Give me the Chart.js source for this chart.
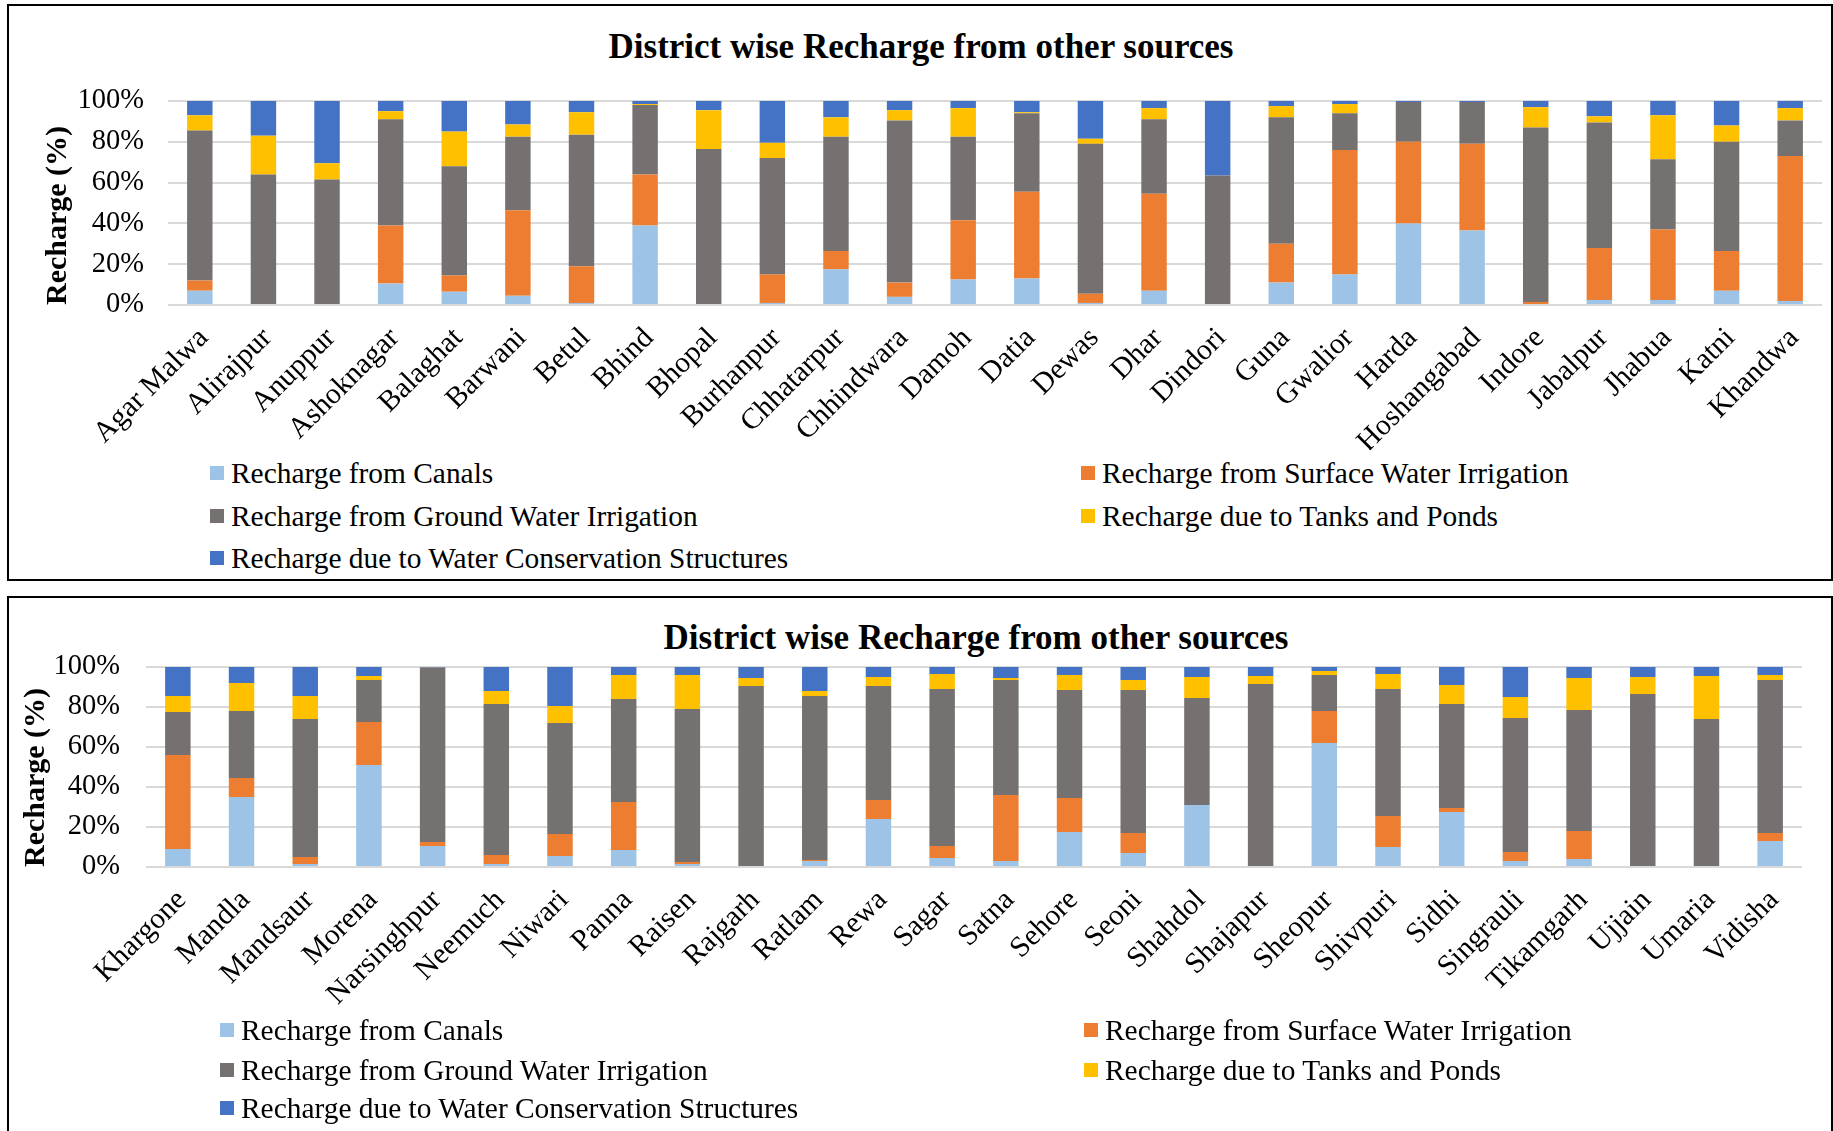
<!DOCTYPE html>
<html><head><meta charset="utf-8">
<script src="https://cdn.jsdelivr.net/npm/chart.js@4.4.1/dist/chart.umd.min.js"></script>
<style>
html,body{margin:0;padding:0;background:#fff;width:1833px;height:1131px;overflow:hidden;font-family:"Liberation Serif","Times New Roman",serif;color:#000;}
.frame{position:absolute;border:2px solid #000;box-sizing:border-box;}
.title{position:absolute;font-weight:bold;font-size:35px;white-space:nowrap;transform:translate(-50%,-50%);line-height:40px;}
canvas{position:absolute;left:0;}
.leg{position:absolute;font-size:29.4px;white-space:nowrap;display:flex;align-items:center;height:34px;line-height:34px;}
.leg i{display:inline-block;width:14px;height:14px;margin-right:7px;}
</style></head><body>
<div class="frame" style="left:7px;top:4px;width:1826px;height:577px;"></div>
<div class="frame" style="left:7px;top:596px;width:1826px;height:560px;"></div>
<div class="title" style="left:921px;top:47px;">District wise Recharge from other sources</div>
<div class="title" style="left:976px;top:638px;">District wise Recharge from other sources</div>
<canvas id="c1" width="1833" height="450" style="top:0;width:1833px;height:450px;"></canvas>
<canvas id="c2" width="1833" height="420" style="top:597px;width:1833px;height:420px;"></canvas>
<div id="legends"></div>
<script>
const seriesNames = [
  "Recharge from Canals",
  "Recharge from Surface Water Irrigation",
  "Recharge from Ground Water Irrigation",
  "Recharge due to Tanks and Ponds",
  "Recharge due to Water Conservation Structures"
];
const yTickValues = [0, 20, 40, 60, 80, 100];
const yAxisTitle = "Recharge (%)";

// Panel 1
const districts1 = ["Agar Malwa","Alirajpur","Anuppur","Ashoknagar","Balaghat","Barwani","Betul","Bhind","Bhopal","Burhanpur","Chhatarpur","Chhindwara","Damoh","Datia","Dewas","Dhar","Dindori","Guna","Gwalior","Harda","Hoshangabad","Indore","Jabalpur","Jhabua","Katni","Khandwa"];
const canals1       = [7,   0,   0,   10.5, 6.5, 4.5, 1,   39,  0,   1,   17.5, 4,   12.5, 13,  1,   7,   0,   11,  15,  40,  36.5, 0,   2.5, 2.5, 7,   2];
const surface1      = [5,   0,   0,   28.5, 8,   42,  18,  25,  0,   14,  9,    7,   29,   42.5,4.5, 47.5,0,   19,  61,  40,  42.5, 1.5, 25.5,34.5,19.5,71];
const groundwater1  = [73.5,64,  61.5,52,   53.5,36,  64.5,34,  76.5,57,  56,   79.5,41,   38.5,73.5,36.5,63.5,62,  18,  19.5,20.5, 85.5,61.5,34.5,53.5,17.5];
const tanks1        = [7.5, 19,  8,   4,    17,  6,   11,  0.5, 19,  7.5, 9.5,  5,   14,   0.5, 2.5, 5.5, 0,   5.5, 4.5, 0,   0,    10,  3,   21.5,8,   6];
const conservation1 = [7,   17,  30.5,5,    15,  11.5,5.5, 1.5, 4.5, 20.5,8,    4.5, 3.5,  5.5, 18.5,3.5, 36.5,2.5, 1.5, 0.5, 0.5,  3,   7.5, 7,   12,  3.5];

// Panel 2
const districts2 = ["Khargone","Mandla","Mandsaur","Morena","Narsinghpur","Neemuch","Niwari","Panna","Raisen","Rajgarh","Ratlam","Rewa","Sagar","Satna","Sehore","Seoni","Shahdol","Shajapur","Sheopur","Shivpuri","Sidhi","Singrauli","Tikamgarh","Ujjain","Umaria","Vidisha"];
const canals2       = [9,   35,  1.5, 51,  10.5, 1.5, 5.5, 8.5, 1.5, 0,   3,   24,  4.5, 3,   17.5,7,   31,  0,   62,  10,  27.5,3,   4,   0,   0,   13];
const surface2      = [47,  9.5, 3.5, 21.5,2,    4.5, 11,  24,  1,   0,   0.5, 9.5, 6,   33,  17,  10,  0,   0,   16,  15.5,2,   4.5, 14,  0,   0,   4];
const groundwater2  = [21.5,33.5,69,  21,  87.3, 75.5,55.5,51.5,76.5,90.5,82,  57,  78.5,57.5,54,  71.5,53.5,91.5,18,  63.5,52,  67,  60.5,86.5,74,  76.5];
const tanks2        = [8,   14,  11.5,2,   0,    6.5, 8.5, 12,  17,  4,   2.5, 4.5, 7.5, 1,   7.5, 5,   10.5,4,   2,   7.5, 9.5, 10.5,16,  8.5, 21.5,2.5];
const conservation2 = [14.5,8,   14.5,4.5, 0.2,  12,  19.5,4,   4,   5.5, 12,  5,   3.5, 5.5, 4,   6.5, 5,   4.5, 2,   3.5, 9,   15,  5.5, 5,   4.5, 4];

const colors = ["#9DC3E6", "#ED7D31", "#767171", "#FFC000", "#4472C4"];
const FONT = "'Liberation Serif', 'Times New Roman', serif";

function makeChart(id, labels, series, cfg) {
  const datasets = series.map((d, i) => ({
    label: seriesNames[i],
    data: d,
    backgroundColor: colors[i],
    borderWidth: 0,
    categoryPercentage: 1,
    barPercentage: 0.40
  }));
  return new Chart(document.getElementById(id), {
    type: 'bar',
    data: { labels, datasets },
    options: {
      responsive: false,
      animation: false,
      devicePixelRatio: 1,
      layout: { padding: cfg.padding },
      plugins: { legend: { display: false }, title: { display: false }, tooltip: { enabled: false } },
      scales: {
        x: {
          stacked: true,
          grid: { display: false, drawTicks: false },
          border: { display: false },
          ticks: {
            autoSkip: false, maxRotation: 45, minRotation: 45, padding: cfg.xPad, labelOffset: 4,
            color: '#000', font: { family: FONT, size: 29.5 }
          },
          afterFit: s => { s.height = cfg.xHeight; }
        },
        y: {
          stacked: true,
          min: 0, max: 100,
          afterBuildTicks: s => { s.ticks = yTickValues.map(v => ({ value: v })); },
          grid: { color: '#d9d9d9', lineWidth: 2, drawTicks: false },
          border: { display: false },
          ticks: {
            padding: cfg.yPad, color: '#000',
            font: { family: FONT, size: 28.5 },
            callback: v => v + '%'
          },
          title: {
            display: true, text: yAxisTitle, color: '#000', align: 'start',
            font: { family: FONT, size: 30, weight: 'bold' },
            padding: { top: 0, bottom: 0 }
          },
          afterFit: s => { s.width = cfg.yWidth; }
        }
      }
    }
  });
}

makeChart('c1', districts1, [canals1, surface1, groundwater1, tanks1, conservation1],
  { padding: { left: 40, right: 11, top: 101, bottom: 0 }, xHeight: 145, yWidth: 128, yPad: 24, xPad: 16 });
makeChart('c2', districts2, [canals2, surface2, groundwater2, tanks2, conservation2],
  { padding: { left: 18, right: 31, top: 70, bottom: 0 }, xHeight: 150, yWidth: 128, yPad: 26, xPad: 16 });

function legend(rowsY, colX) {
  const host = document.getElementById('legends');
  seriesNames.forEach((name, i) => {
    const row = Math.floor(i / 2), col = i % 2;
    const el = document.createElement('div');
    el.className = 'leg';
    el.style.left = colX[col] + 'px';
    el.style.top = (rowsY[row] - 17) + 'px';
    const sw = document.createElement('i');
    sw.style.background = colors[i];
    el.appendChild(sw);
    el.appendChild(document.createTextNode(name));
    host.appendChild(el);
  });
}
legend([473, 516, 558], [210, 1081]);
legend([1030, 1070, 1108], [220, 1084]);
</script>
</body></html>
